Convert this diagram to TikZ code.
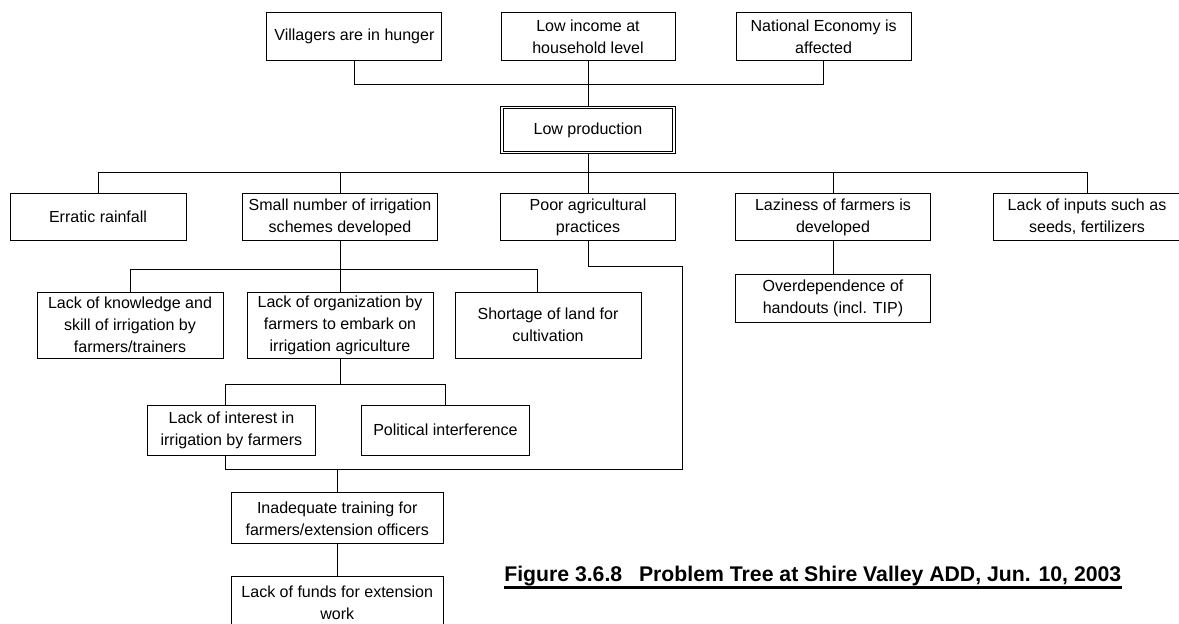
\documentclass[tikz,border=0pt]{standalone}
\usepackage{fontspec}
\setmainfont{Liberation Sans}
\usetikzlibrary{positioning, calc}

\tikzset{
  cell/.style={draw, line width=0.7pt, align=center, inner sep=1pt,
    font=\fontsize{11.4}{15.6}\selectfont, minimum height=1.19cm},
  link/.style={line width=0.7pt}
}

\begin{document}
\begin{tikzpicture}
  \useasboundingbox (0,0) rectangle (29.475,-15.575);
  % effects
  \node[cell, minimum width=4.375cm] (hunger) at (8.86,-0.91) {Villagers are in hunger};
  \node[cell, minimum width=4.35cm] (income) at (14.7,-0.91) {Low income at\\household level};
  \node[cell, minimum width=4.375cm] (national) at (20.59,-0.91) {National Economy is\\affected};
  \node[cell, double, double distance=1.2pt, minimum width=4.31cm,
        minimum height=1.13cm] (lowprod) at (14.7,-3.25) {Low production};
  % direct causes
  \node[cell, minimum width=4.4cm] (erratic) at (2.45,-5.425) {Erratic rainfall};
  \node[cell, minimum width=4.875cm] (smallnum) at (8.5,-5.425) {Small number of irrigation\\schemes developed};
  \node[cell, minimum width=4.375cm] (pooragri) at (14.7,-5.425) {Poor agricultural\\practices};
  \node[cell, minimum width=4.875cm] (laziness) at (20.825,-5.425) {Laziness of farmers is\\developed};
  \node[cell, minimum width=4.7cm] (inputs) at (27.175,-5.425) {Lack of inputs such as\\seeds, fertilizers};
  % deeper causes
  \node[cell, minimum width=4.65cm, minimum height=1.65cm] (knowledge) at (3.25,-8.125)
    {Lack of knowledge and\\skill of irrigation by\\farmers/trainers};
  \node[cell, minimum width=4.65cm, minimum height=1.65cm] (organize) at (8.5,-8.125)
    {Lack of organization by\\farmers to embark on\\irrigation agriculture};
  \node[cell, minimum width=4.65cm, minimum height=1.65cm] (shortage) at (13.7,-8.125)
    {Shortage of land for\\cultivation};
  \node[cell, minimum width=4.875cm] (handouts) at (20.825,-7.46) {Overdependence of\\handouts (incl. TIP)};
  \node[cell, minimum width=4.2cm, minimum height=1.25cm] (interest) at (5.785,-10.75)
    {Lack of interest in\\irrigation by farmers};
  \node[cell, minimum width=4.2cm, minimum height=1.25cm] (political) at (11.135,-10.75)
    {Political interference};
  \node[cell, minimum width=5.3cm, minimum height=1.275cm] (training) at (8.43,-12.96)
    {Inadequate training for\\farmers/extension officers};
  \node[cell, minimum width=5.3cm, minimum height=1.275cm] (funds) at (8.43,-15.06)
    {Lack of funds for extension\\work};

  \coordinate (topbus) at (14.7,-2.1);
  \coordinate (rootbus) at (14.7,-4.3075);
  \coordinate (irrbus) at (8.5,-6.725);
  \coordinate (orgbus) at (8.5,-9.6175);
  \coordinate (bend) at (17.05,-6.6675);
  \coordinate (join) at (8.43,-11.725);

  \foreach \n in {hunger,national}{%
    \draw[link] (\n.south) |- (topbus);}
  \draw[link] (income.south) -- (lowprod.north);
  \draw[link] (lowprod.south) -- (pooragri.north);
  \foreach \n in {erratic,smallnum,laziness,inputs}{%
    \draw[link] (\n.north) |- (rootbus);}
  \draw[link] (smallnum.south) -- (organize.north);
  \draw[link] (knowledge.north) |- (irrbus);
  \draw[link] ([xshift=-0.27cm]shortage.north) |- (irrbus);
  \draw[link] (laziness.south) -- (handouts.north);
  \draw[link] (organize.south) -- (orgbus);
  \draw[link] ([xshift=-0.16cm]interest.north) |- (orgbus);
  \draw[link] (political.north) |- (orgbus);
  \draw[link] (pooragri.south) |- (bend) |- (join) -| ([xshift=-0.16cm]interest.south);
  \draw[link] (join) -- (training.north);
  \draw[link] (training.south) -- (funds.north);

  \node[anchor=base west, inner sep=0pt, font=\fontsize{15.1}{18}\selectfont\bfseries]
    (caption) at (12.6,-14.53)
    {Figure 3.6.8\hspace{0.42cm}Problem Tree at Shire Valley ADD, Jun. 10, 2003};
  \draw[line width=2.2pt] ([yshift=-0.15cm]caption.base west) -- ([yshift=-0.15cm]caption.base east);
\end{tikzpicture}
\end{document}
